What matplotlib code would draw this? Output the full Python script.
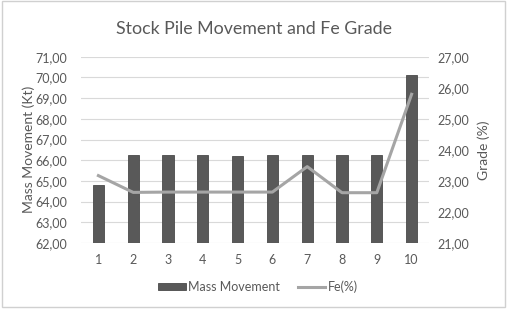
import matplotlib
matplotlib.use("Agg")
import matplotlib.pyplot as plt
from matplotlib.ticker import FuncFormatter, MultipleLocator
from matplotlib.patches import Rectangle

categories = [1, 2, 3, 4, 5, 6, 7, 8, 9, 10]
mass_movement = [64.79, 66.24, 66.24, 66.24, 66.19, 66.24, 66.24, 66.27, 66.27, 70.10]
fe_grade = [23.17, 22.63, 22.64, 22.64, 22.64, 22.64, 23.46, 22.62, 22.62, 25.79]

plt.rcParams['font.family'] = ['Lato', 'DejaVu Sans']
TXT = '#595959'

fig = plt.figure(figsize=(5.07, 3.09), dpi=100)
fig.patches.append(Rectangle((0.004, 0.006), 0.992, 0.99, transform=fig.transFigure,
                             fill=False, edgecolor='#D0D0D0', linewidth=1))
ax = fig.add_axes([81/507, 1-243/309, (429-81)/507, (243-56.7)/309])
ax2 = ax.twinx()

ax.bar(categories, mass_movement, width=0.32, color='#595959', edgecolor='#4a4a4a',
       linewidth=0.6, label='Mass Movement', zorder=2)
ax2.plot(categories, fe_grade, color='#A5A5A5', linewidth=2.2, label='Fe(%)',
         solid_joinstyle='round', zorder=3)

ax.set_xlim(0.5, 10.5)
ax.set_ylim(62, 71)
ax2.set_ylim(21, 27)
ax.yaxis.set_major_locator(MultipleLocator(1))
ax2.yaxis.set_major_locator(MultipleLocator(1))
fmt = FuncFormatter(lambda v, p: f"{v:.2f}".replace('.', ','))
ax.yaxis.set_major_formatter(fmt)
ax2.yaxis.set_major_formatter(fmt)
ax.set_xticks(categories)
ax.set_xticklabels([str(c) for c in categories])

ax.grid(axis='y', color='#D9D9D9', linewidth=0.8, zorder=0)
ax.set_axisbelow(True)
for a in (ax, ax2):
    for s in a.spines.values():
        s.set_visible(False)
    a.tick_params(length=0, labelsize=9, colors=TXT)
ax.tick_params(axis='y', pad=10)
ax2.tick_params(axis='y', pad=6)
ax.tick_params(axis='x', pad=8)

ax.set_ylabel('Mass Movement (Kt)', fontsize=10, color=TXT, labelpad=0)
ax2.set_ylabel('Grade (%)', fontsize=10, color=TXT, labelpad=6)

fig.text(0.5, 1-29/309, 'Stock Pile Movement and Fe Grade', ha='center', va='center',
         fontsize=12.8, color=TXT)

h1, l1 = ax.get_legend_handles_labels()
h2, l2 = ax2.get_legend_handles_labels()
fig.legend(h1 + h2, l1 + l2, loc='center', bbox_to_anchor=(258/507, 1-287/309), ncol=2,
           frameon=False, fontsize=9, labelcolor=TXT, handlelength=2.2, handleheight=0.5,
           handletextpad=0.2, columnspacing=1.4)

fig.savefig('out.png', dpi=100, facecolor='white')
